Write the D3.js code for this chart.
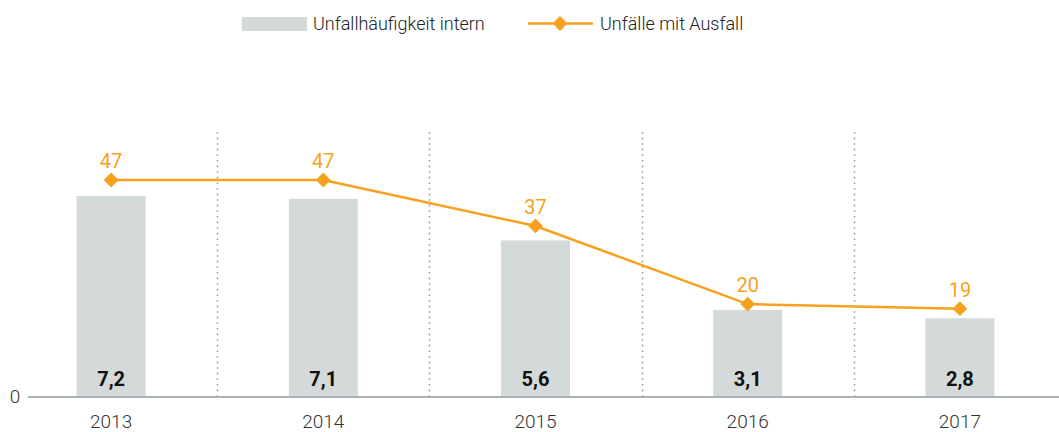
<!DOCTYPE html>
<html>
<head>
<meta charset="utf-8">
<script src="https://cdn.jsdelivr.net/npm/d3@7"></script>
<style>
  body { margin: 0; background: #fff; }
  svg { display: block; font-family: "Roboto", sans-serif; font-weight: 300; }
</style>
</head>
<body>
<svg></svg>
<script>
const years = ['2013', '2014', '2015', '2016', '2017'];
const rate = [7.2, 7.1, 5.6, 3.1, 2.8];          // Unfallhäufigkeit intern
const accidents = [47, 47, 37, 20, 19];          // Unfälle mit Ausfall
const yTicks = [0];

const svg = d3.select('svg').attr('width', 1059).attr('height', 432);

const BASE = 396;
const GREY = '#d4d9d9';
const ORANGE = '#f7a11f';

// x scale, one band per year
const x = d3.scaleBand().domain(years).range([5, 1066]).padding(0);
const barW = 69;

// two y scales sharing a baseline
const yBar = d3.scaleLinear().domain([0, 7.2]).range([BASE, 196]);
const yLine = d3.scaleLinear().domain([0, 47]).range([BASE, 180]);

// dotted separators between years
svg.append('g')
  .selectAll('line')
  .data(years.slice(1))
  .join('line')
  .attr('x1', d => Math.round(x(d)) + 0.5)
  .attr('x2', d => Math.round(x(d)) + 0.5)
  .attr('y1', 132)
  .attr('y2', BASE)
  .attr('stroke', '#a0a0a0')
  .attr('stroke-width', 1.6)
  .attr('stroke-dasharray', '1.6,4');

// bars
svg.append('g')
  .selectAll('rect')
  .data(rate)
  .join('rect')
  .attr('x', (d, i) => x(years[i]) + x.bandwidth() / 2 - barW / 2)
  .attr('y', d => yBar(d))
  .attr('width', barW)
  .attr('height', d => BASE - yBar(d))
  .attr('fill', GREY);

// bar values
svg.append('g')
  .selectAll('text')
  .data(rate)
  .join('text')
  .attr('x', (d, i) => x(years[i]) + x.bandwidth() / 2)
  .attr('y', BASE - 10)
  .attr('text-anchor', 'middle')
  .attr('font-size', 20)
  .attr('font-weight', 'bold')
  .attr('fill', '#111')
  .text(d => d.toFixed(1).replace('.', ','));

// baseline axis
const xAxis = d3.axisBottom(x).tickSize(0).tickPadding(19);
const xAxisG = svg.append('g').attr('transform', `translate(0, ${BASE})`);
xAxis(xAxisG);
xAxisG.attr('font-family', null).attr('font-size', null);
xAxisG.select('.domain').remove();
xAxisG.selectAll('text').attr('font-size', 19).attr('fill', '#333');
svg.append('line')
  .attr('x1', 28).attr('x2', 1059)
  .attr('y1', BASE + 1).attr('y2', BASE + 1)
  .attr('stroke', '#a9b1b4').attr('stroke-width', 2);

svg.append('g')
  .selectAll('text')
  .data(yTicks)
  .join('text')
  .attr('x', 15)
  .attr('y', d => yBar(d) + 7)
  .attr('text-anchor', 'middle')
  .attr('font-size', 19)
  .attr('fill', '#333')
  .text(d => d);

// line series
const line = d3.line()
  .x((d, i) => x(years[i]) + x.bandwidth() / 2)
  .y(d => yLine(d));

svg.append('path')
  .datum(accidents)
  .attr('d', line)
  .attr('fill', 'none')
  .attr('stroke', ORANGE)
  .attr('stroke-width', 2.5);

const diamond = d3.symbol(d3.symbolSquare, 110);
svg.append('g')
  .selectAll('path')
  .data(accidents)
  .join('path')
  .attr('d', diamond)
  .attr('transform', (d, i) => `translate(${x(years[i]) + x.bandwidth() / 2}, ${yLine(d)}) rotate(45)`)
  .attr('fill', ORANGE);

svg.append('g')
  .selectAll('text')
  .data(accidents)
  .join('text')
  .attr('x', (d, i) => x(years[i]) + x.bandwidth() / 2)
  .attr('y', d => yLine(d) - 12)
  .attr('text-anchor', 'middle')
  .attr('font-size', 20)
  .attr('font-weight', 400)
  .attr('fill', ORANGE)
  .text(d => d);

// legend
const legend = svg.append('g');
legend.append('rect')
  .attr('x', 242).attr('y', 17).attr('width', 65).attr('height', 14)
  .attr('fill', GREY);
legend.append('text')
  .attr('x', 313).attr('y', 30)
  .attr('font-size', 18).attr('fill', '#222')
  .text('Unfallhäufigkeit intern');
legend.append('line')
  .attr('x1', 528).attr('x2', 593).attr('y1', 23.5).attr('y2', 23.5)
  .attr('stroke', ORANGE).attr('stroke-width', 2.5);
legend.append('path')
  .attr('d', diamond)
  .attr('transform', 'translate(560, 23.5) rotate(45)')
  .attr('fill', ORANGE);
legend.append('text')
  .attr('x', 600).attr('y', 30)
  .attr('font-size', 18).attr('fill', '#222')
  .text('Unfälle mit Ausfall');
</script>
</body>
</html>
